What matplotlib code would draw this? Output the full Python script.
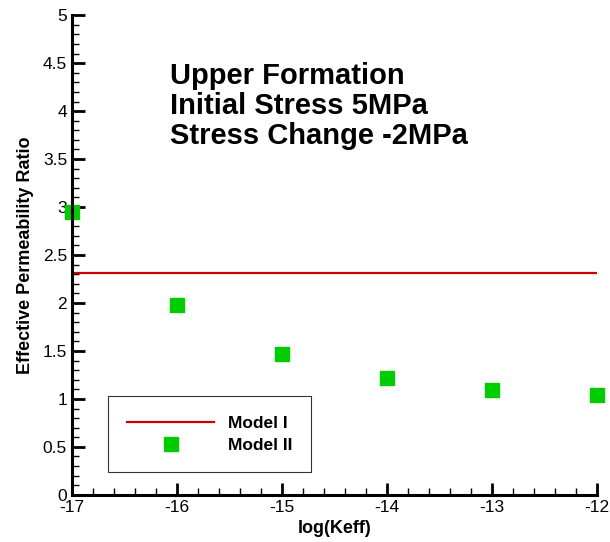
import matplotlib
matplotlib.use("Agg")
import matplotlib.pyplot as plt
from matplotlib.ticker import MultipleLocator

# data
log_keff = [-17, -16, -15, -14, -13, -12]
model2_ratio = [2.95, 1.98, 1.47, 1.22, 1.09, 1.04]
model1_x = [-17, -12]
model1_ratio = [2.31, 2.31]

plt.rcParams['font.family'] = ['Liberation Sans', 'DejaVu Sans']
plt.rcParams['axes.unicode_minus'] = False

fig = plt.figure(figsize=(6.1, 5.42), dpi=100)
ax = fig.add_axes([0.118, 0.087, 0.861, 0.885])

ax.plot(model1_x, model1_ratio, color="#cc0000", lw=1.6, label="Model I")
ax.plot(log_keff, model2_ratio, ls="none", marker="s", ms=9.5,
        color="#00cc00", mec="#00cc00", label="Model II", clip_on=False)

ax.set_xlim(-17, -12)
ax.set_ylim(0, 5)
ax.xaxis.set_major_locator(MultipleLocator(1))
ax.xaxis.set_minor_locator(MultipleLocator(0.2))
ax.yaxis.set_major_locator(MultipleLocator(0.5))
ax.yaxis.set_minor_locator(MultipleLocator(0.1))
ax.yaxis.set_major_formatter(plt.FuncFormatter(lambda v, p: f"{v:g}"))

ax.spines['top'].set_visible(False)
ax.spines['right'].set_visible(False)
ax.spines['left'].set_linewidth(2.2)
ax.spines['bottom'].set_linewidth(2.2)
ax.tick_params(which='major', direction='in', length=9, width=2, labelsize=12.5)
ax.tick_params(which='minor', direction='in', length=5, width=1)

ax.set_xlabel("log(Keff)", fontsize=13, fontweight='bold', labelpad=4)
ax.set_ylabel("Effective Permeability Ratio", fontsize=13, fontweight='bold', labelpad=6)

ax.text(0.187, 0.903, "Upper Formation\nInitial Stress 5MPa\nStress Change -2MPa",
        transform=ax.transAxes, fontsize=21, fontweight='bold',
        va='top', ha='left', linespacing=1.1)

leg = ax.legend(loc='lower left', bbox_to_anchor=(0.069, 0.048), borderaxespad=0,
                frameon=True, fancybox=False, handlelength=5.0, handletextpad=0.8,
                borderpad=1.1, labelspacing=0.4, prop={'weight': 'bold', 'size': 12.5})
leg.get_frame().set_edgecolor('black')
leg.get_frame().set_linewidth(0.8)

fig.savefig("out.png", dpi=100)
plt.close(fig)
